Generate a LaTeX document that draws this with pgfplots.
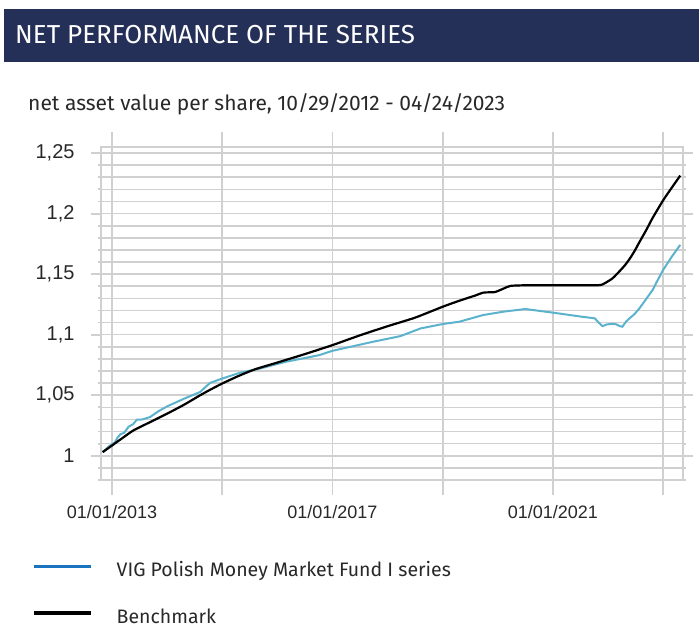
\documentclass[border=0pt]{standalone}
\usepackage{pgfplots}
\pgfplotsset{compat=1.18}
\usepackage{fontspec}
\setmainfont{Fira Sans}
\newfontfamily\tickfont{Liberation Sans}
\definecolor{hdr}{RGB}{37,48,88}
\definecolor{fundline}{RGB}{90,178,204}
\definecolor{fundleg}{RGB}{25,115,190}
\definecolor{gridc}{RGB}{208,208,208}
\definecolor{txt}{RGB}{40,40,40}
\begin{document}
\begin{tikzpicture}[x=1pt,y=1pt]
\path[use as bounding box] (0,0) rectangle (699,-628);
\fill[hdr] (4,-9) rectangle (699,-62);
\node[anchor=base west, text=white, font=\fontsize{26}{30}\selectfont, inner sep=0pt] at (15,-44) {NET PERFORMANCE OF THE SERIES};
\node[anchor=base west, text=txt, font=\fontsize{21}{24}\selectfont, inner sep=0pt] at (28,-111) {net asset value per share, 10/29/2012 - 04/24/2023};
\begin{axis}[
  at={(101pt,-480pt)}, anchor=south west,
  scale only axis, width=582pt, height=333pt,
  xmin=2012.80, xmax=2023.36, ymin=0.98, ymax=1.255,
  axis line style={gridc, line width=1.8pt},
  tick align=outside,
  xtick={2013,2015,2017,2019,2021,2023},
  xticklabels={01/01/2013,{},01/01/2017,{},01/01/2021,{}},
  ytick={1,1.05,1.1,1.15,1.2,1.25},
  minor ytick={0.98,0.99,1.0,1.01,1.02,1.03,1.04,1.05,1.06,1.07,1.08,1.09,1.1,1.11,1.12,1.13,1.14,1.15,1.16,1.17,1.18,1.19,1.2,1.21,1.22,1.23,1.24,1.25},
  xtick style={gridc, line width=1.8pt, /pgfplots/major tick length=15pt},
  ytick style={gridc, line width=1.8pt, /pgfplots/major tick length=10pt, /pgfplots/minor tick length=3pt},
  grid=both,
  major grid style={gridc, line width=1.6pt},
  minor grid style={gridc, line width=1.6pt},
  xticklabel style={font=\tickfont\fontsize{18}{20}\selectfont, text=txt, yshift=-18pt},
  yticklabel style={font=\tickfont\fontsize{20}{22}\selectfont, text=txt, inner xsep=0pt, xshift=-22pt},
  /pgf/number format/assume math mode=true,
  /pgf/number format/use comma,
  /pgf/number format/1000 sep={},
  legend style={at={(axis description cs:-0.1186,-0.244)}, anchor=north west, draw=none, fill=none,
    font=\fontsize{19.5}{22}\selectfont, text=txt, row sep=30.5pt, inner sep=0pt,
    nodes={inner sep=0pt},
    /tikz/every odd column/.append style={column sep=24pt}},
  legend cell align=left,
  legend image code/.code={\draw[#1] (0pt,3.5pt) -- (57pt,3.5pt);},
  clip=false,
]
\addlegendimage{fundleg, line width=3.5pt}
\addlegendentry{VIG Polish Money Market Fund I series}
\addlegendimage{black, line width=3.5pt}
\addlegendentry{Benchmark}
\addplot[fundline, line width=2pt, forget plot] coordinates {
(2012.83,1.003) (2012.95,1.008) (2013.05,1.011) (2013.1,1.015) (2013.15,1.0177) (2013.22,1.019) (2013.3,1.024)
(2013.38,1.026) (2013.45,1.0298) (2013.55,1.030) (2013.69,1.032) (2013.85,1.037) (2014.0,1.0408)
(2014.31,1.0472) (2014.6,1.0527) (2014.7,1.057) (2014.78,1.0602) (2015.0,1.0638)
(2015.31,1.0684) (2015.68,1.072) (2016.15,1.0776) (2016.76,1.0831) (2017.0,1.0867)
(2017.73,1.0941) (2018.23,1.0988) (2018.6,1.1052) (2019.0,1.1088) (2019.3,1.1107)
(2019.73,1.1162) (2020.1,1.119) (2020.5,1.1212) (2021.0,1.1182) (2021.5,1.115)
(2021.76,1.1135) (2021.83,1.110) (2021.9,1.1071) (2021.98,1.1085) (2022.1,1.109)
(2022.15,1.1085) (2022.22,1.107) (2022.26,1.1066) (2022.33,1.111) (2022.39,1.1135)
(2022.48,1.117) (2022.57,1.1218) (2022.7,1.130) (2022.81,1.137) (2022.9,1.145)
(2023.0,1.1535) (2023.15,1.164) (2023.31,1.1742)
};
\addplot[black, line width=2.2pt, smooth, tension=0.4, forget plot] coordinates {
(2012.83,1.003) (2013.0,1.0085) (2013.2,1.015) (2013.39,1.021) (2013.7,1.028)
(2014.0,1.0348) (2014.3,1.042) (2014.6,1.050) (2014.8,1.055) (2015.0,1.0597)
(2015.3,1.066) (2015.6,1.0715) (2016.0,1.077) (2016.5,1.084) (2017.0,1.0914)
(2017.5,1.0995) (2018.0,1.107) (2018.5,1.1141) (2019.0,1.1231) (2019.3,1.128)
(2019.6,1.1325) (2019.73,1.1347) (2019.85,1.135) (2019.95,1.1352) (2020.1,1.138)
(2020.23,1.1403) (2020.5,1.1408) (2021.0,1.1408) (2021.5,1.1408) (2021.81,1.1408)
(2021.9,1.1415) (2021.96,1.143) (2022.08,1.1465) (2022.2,1.152) (2022.3,1.157)
(2022.39,1.1625) (2022.48,1.169) (2022.57,1.1765) (2022.7,1.187) (2022.81,1.1965)
(2023.0,1.211) (2023.15,1.221) (2023.31,1.2314)
};
\end{axis}
\end{tikzpicture}
\end{document}
